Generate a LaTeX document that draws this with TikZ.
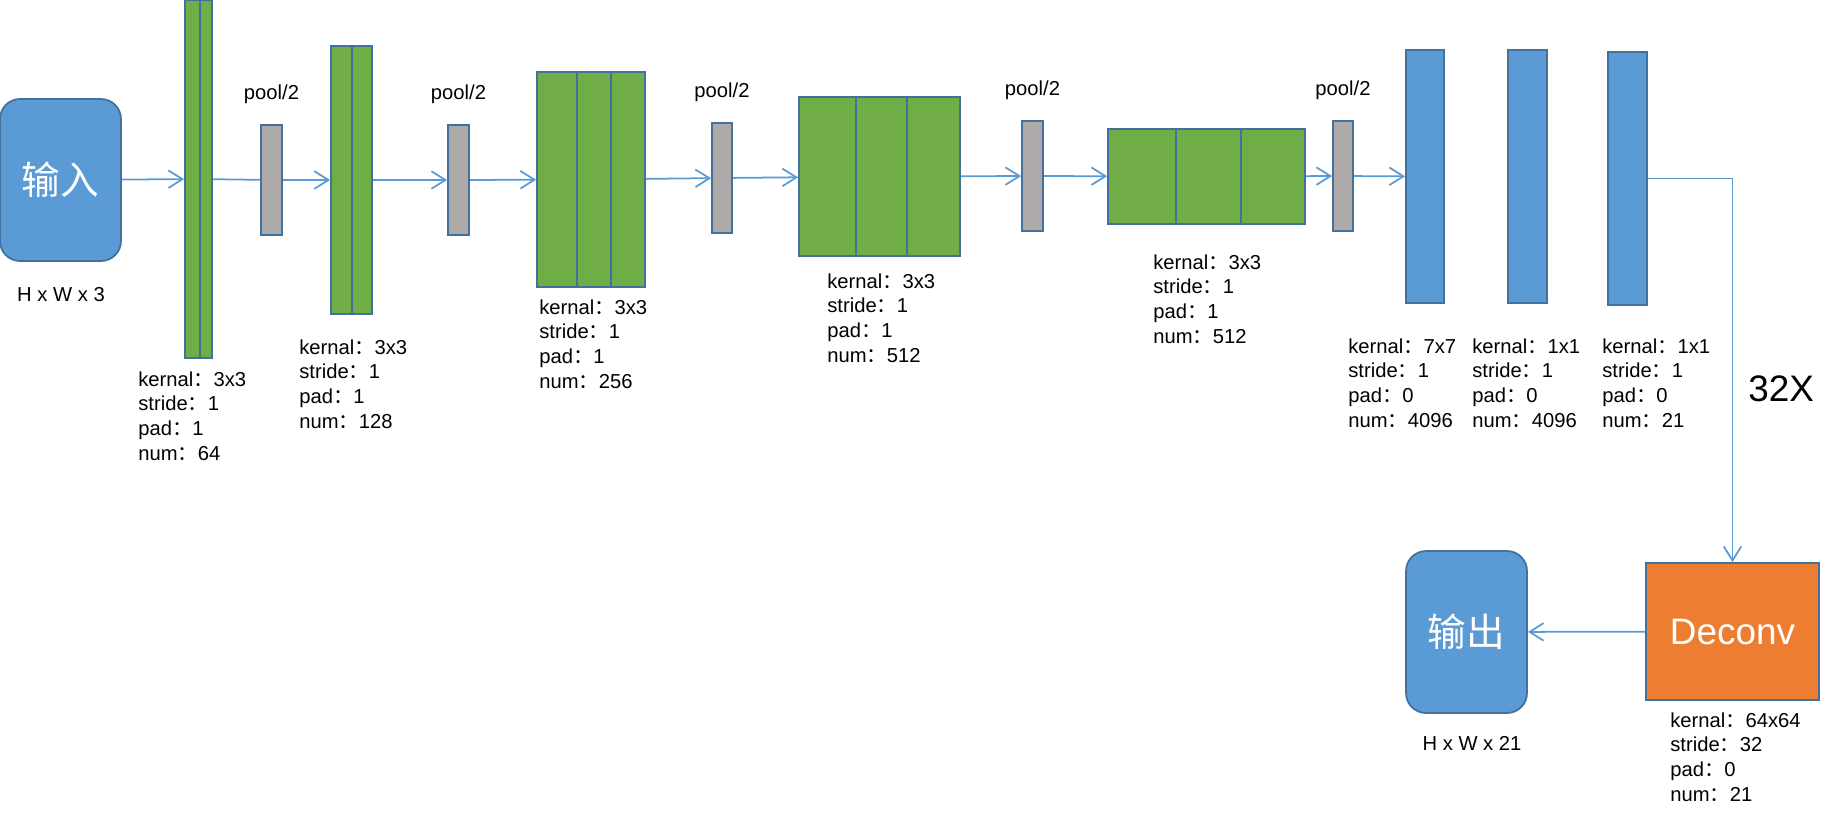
\documentclass[tikz,border=0pt]{standalone}
\usepackage{fontspec}
\setmainfont{Liberation Sans}
\newfontfamily\cjk{Noto Sans CJK SC}
\usetikzlibrary{arrows.meta, fit}
\definecolor{convgreen}{HTML}{70AD47}
\definecolor{edgeblue}{HTML}{41719C}
\definecolor{poolgray}{HTML}{AEAAAA}
\definecolor{fcblue}{HTML}{5B9BD5}
\definecolor{deconvorange}{HTML}{ED7D31}
\definecolor{linkblue}{HTML}{5B9BD5}
\newcommand{\zc}{{\cjk ：}}

\begin{document}
\begin{tikzpicture}[x=0.02cm, y=-0.02cm, every node/.style={inner sep=0pt},
	block/.style={draw=edgeblue, line width=1pt, inner sep=0pt},
	conv/.style={block, fill=convgreen},
	pool/.style={block, fill=poolgray},
	fc/.style={block, fill=fcblue},
	io/.style={block, fill=fcblue, rounded corners=0.4cm, minimum width=2.42cm, minimum height=3.24cm, text=white, font=\cjk\fontsize{22}{26}\selectfont},
	deconv/.style={block, fill=deconvorange, minimum width=3.46cm, minimum height=2.74cm, text=white, font=\fontsize{21}{25}\selectfont},
	small/.style={font=\fontsize{11.5}{14.2}\selectfont},
	info/.style={small, anchor=north west, align=left},
	link/.style={draw=linkblue, line width=1pt},
	arr/.style={link, -{Straight Barb[length=8pt,width=10pt]}}]
	\useasboundingbox (0,0) rectangle (1834,816);
	\node[io] (in) at (60.5,180) {输入};
	\node[conv, fit={(185,0) (212,358)}] (c1) {};
	\node[pool, fit={(261,125) (282,235)}] (p1) {};
	\node[conv, fit={(331,46) (372,314)}] (c2) {};
	\node[pool, fit={(448,125) (469,235)}] (p2) {};
	\node[conv, fit={(537,72) (645,287)}] (c3) {};
	\node[pool, fit={(712,123) (732,233)}] (p3) {};
	\node[conv, fit={(799,97) (960,256)}] (c4) {};
	\node[pool, fit={(1022,121) (1043,231)}] (p4) {};
	\node[conv, fit={(1108,129) (1305,224)}] (c5) {};
	\node[pool, fit={(1333,121) (1353,231)}] (p5) {};
	\node[fc, fit={(1406,50) (1444,303)}] (f6) {};
	\node[fc, fit={(1508,50) (1547,303)}] (f7) {};
	\node[fc, fit={(1608,52) (1647,305)}] (f8) {};
	\node[deconv] (dc) at (1732.5,631.5) {Deconv};
	\node[io] (out) at (1466.5,632) {输出};
	\foreach \xa/\ya/\yb in {200/0/358, 352/46/314, 577/72/287, 611/72/287, 856/97/256, 907/97/256, 1176/129/224, 1241/129/224}
		\draw[draw=edgeblue, line width=1pt] (\xa,\ya) -- (\xa,\yb);
	\foreach \i in {1,...,5}
		\node[small, anchor=base] (pl\i) at ([yshift=0.5cm]p\i.north) {pool/2};
	\node[small, anchor=base] (insize) at (61,301) {H x W x 3};
	\node[small, anchor=base] (outsize) at (1472,750) {H x W x 21};
	\node[info] (c1info) at (138,371) {kernal\zc 3x3\\stride\zc 1\\pad\zc 1\\num\zc 64};
	\node[info] (c2info) at (299,339) {kernal\zc 3x3\\stride\zc 1\\pad\zc 1\\num\zc 128};
	\node[info] (c3info) at (539,299) {kernal\zc 3x3\\stride\zc 1\\pad\zc 1\\num\zc 256};
	\node[info] (c4info) at (827,273) {kernal\zc 3x3\\stride\zc 1\\pad\zc 1\\num\zc 512};
	\node[info] (c5info) at (1153,254) {kernal\zc 3x3\\stride\zc 1\\pad\zc 1\\num\zc 512};
	\node[info] (f6info) at (1348,338) {kernal\zc 7x7\\stride\zc 1\\pad\zc 0\\num\zc 4096};
	\node[info] (f7info) at (1472,338) {kernal\zc 1x1\\stride\zc 1\\pad\zc 0\\num\zc 4096};
	\node[info] (f8info) at (1602,338) {kernal\zc 1x1\\stride\zc 1\\pad\zc 0\\num\zc 21};
	\node[info] (dcinfo) at (1670,712) {kernal\zc 64x64\\stride\zc 32\\pad\zc 0\\num\zc 21};
	\node[font=\fontsize{21}{25}\selectfont, anchor=base west] (upscale) at (1748,401) {32X};
	\draw[arr] (in) -- (c1);
	\draw[link] (c1) -- (p1);
	\draw[arr] (p1) -- (c2);
	\draw[arr] (c2) -- (p2);
	\draw[arr] (p2) -- (c3);
	\draw[arr] (c3) -- (p3);
	\draw[arr] (p3) -- (c4);
	\draw[arr] (c4) -- (p4);
	\draw[arr] (p4) -- (c5);
	\draw[arr] (c5) -- (p5);
	\draw[arr] (p5) -- (f6);
	\draw[arr] (f8) -| (dc);
	\draw[arr] (dc) -- (out);
\end{tikzpicture}
\end{document}
